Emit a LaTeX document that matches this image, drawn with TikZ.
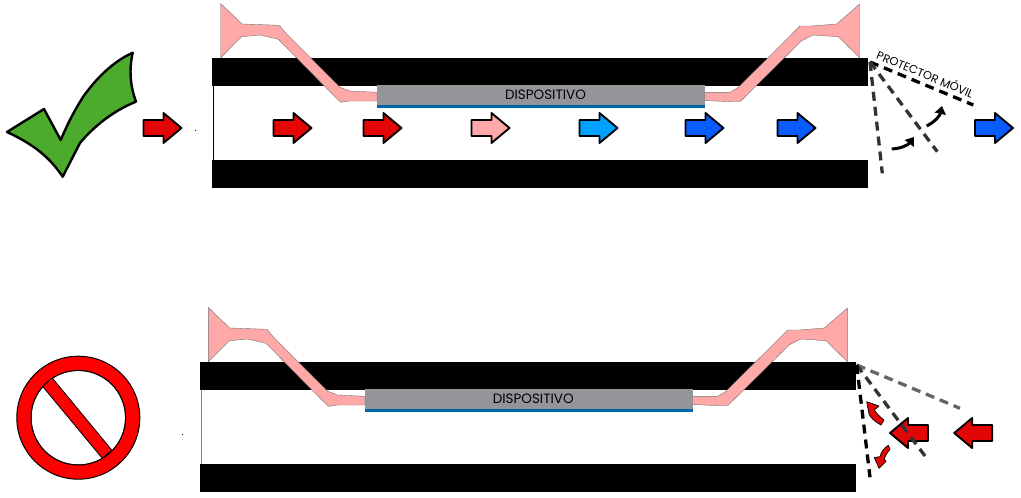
\documentclass[tikz,border=0pt]{standalone}
\usepackage{fontspec}
\setmainfont{Poppins}
\usetikzlibrary{
  arrows.meta,
  calc
}
\definecolor{horn}{HTML}{FFA8A8}
\definecolor{flowred}{HTML}{E30606}
\definecolor{flowblue}{HTML}{0A5CFF}
\definecolor{flowsky}{HTML}{00A2FF}
\definecolor{devgray}{HTML}{939598}
\definecolor{devblue}{HTML}{0068A8}
\definecolor{tick}{HTML}{4CAA2D}
\definecolor{stopred}{HTML}{FF0000}

\begin{document}
\begin{tikzpicture}[
  x=1pt, y=-1pt,
  wall/.style={fill=black},
  hornline/.style={fill=horn, draw=black!55, line width=0.4pt, line join=round},
  shutter/.style={line width=3.3pt, dash pattern=on 9pt off 6pt},
  turn/.style={line width=3pt, -{Triangle[length=8pt, width=11pt]}},
  redturn/.style={fill=flowred, draw=black, line width=0.7pt, line join=round},
  flowline/.style={draw=black, line width=1.9pt, line join=round},
  devlabel/.style={font=\fontsize{13.5}{13.5}\selectfont, inner sep=0pt},
  pics/flowarrow/.style={code={
    \draw[flowline, fill=#1] (0,-8) -- (20,-8) -- (20,-15) -- (38,0) -- (20,15)
      -- (20,8) -- (0,8) -- cycle;
  }},
  pics/guide/.style={code={
    \fill[wall] (212,58) rectangle (868,86);
    \fill[wall] (212,160) rectangle (868,188);
    \fill[devgray] (377,85) rectangle (705,105);
    \fill[devblue] (377,105) rectangle (705,107.5);
    \node[devlabel] (devtext) at (545.5,95) {DISPOSITIVO};
    % left feed
    \draw[hornline] (220.7,3.5) -- (242,24) -- (279.3,25.3) -- (286,33.3) -- (340,87.3)
      -- (350,91) -- (377,92.3) -- (377,101) -- (350,101) -- (340.7,102.3) -- (333.3,95)
      -- (278.3,39.3) -- (260,35) -- (241.7,36.7) -- (220.7,57.8) -- cycle;
    % right feed
    \draw[hornline] (859.7,4) -- (859.7,57.8) -- (838.3,36.7) -- (813.3,35) -- (801.7,40.7)
      -- (740,101.7) -- (730.7,101.7) -- (705,100.5) -- (705,92.3) -- (730,92.3)
      -- (738.3,87.3) -- (800,26) -- (811.7,26) -- (836.7,24) -- cycle;
  }}
]
  \useasboundingbox (0,0) rectangle (1021,498);

  % Allowed case
  \draw[fill=tick, line width=2.4pt, line join=round] (7,132) -- (44,109) -- (60.7,140)
    .. controls (70,118) and (78,105) .. (83,97)
    .. controls (95,80) and (112,62) .. (132.7,52.7)
    .. controls (129,70) and (130,85) .. (136,101.7)
    .. controls (115,110) and (95,125) .. (80,143)
    -- (62.7,176.7)
    .. controls (50,158) and (35,145) .. (7,132) -- cycle;

  \pic at (143.5,128) {flowarrow=flowred};
  \fill (195,129.5) rectangle (196,131);
  \pic (upper) at (0,0) {guide};
  \draw[line width=1pt] (213.3,86) -- (213.3,160);
  \foreach \px/\pcol in {273.5/flowred, 363.5/flowred, 471.5/horn, 579.5/flowsky, 685.5/flowblue, 777.5/flowblue, 975/flowblue}
    \pic at (\px,128) {flowarrow=\pcol};

  \coordinate (hingeA) at (870,62);
  \coordinate (openA) at (973.3,105);
  \coordinate (midA) at (937.3,151.7);
  \coordinate (shutA) at (882.3,173.3);
  \draw[shutter, black] (hingeA) -- (openA);
  \draw[shutter, black!80] (hingeA) -- (midA);
  \draw[shutter, black!80] (hingeA) -- (shutA);
  \node[font=\fontsize{11.5}{11.5}\selectfont, inner sep=0pt, rotate=-22.6] (shuttertext) at (925.5,73.5) {PROTECTOR MÓVIL};
  \draw[turn] (891.7,149) to[bend right=25] (914,137);
  \draw[turn] (926.7,126) to[bend right=25] (942,106);

  % Blocked case
  \fill[white, draw=black, line width=1pt] (78.3,417.7) circle (47.3);
  \draw[fill=stopred, line width=0.8pt] (51.7,377.3) -- (111.7,450) -- (102.3,458.3) -- (42.3,386) -- cycle;
  \draw[fill=stopred, even odd rule, line width=1pt] (78.3,417.7) circle (61.5) (78.3,417.7) circle (47.3);

  \fill (182,433.5) rectangle (183,435);
  \pic (lower) at (-12.3,304) {guide};
  \draw[line width=1pt, black!50] (201,390) -- (201,464);

  \pic[xscale=-1] at (928,433) {flowarrow=flowred};
  \pic[xscale=-1] at (992.2,433) {flowarrow=flowred};

  \coordinate (hingeB) at (856.7,365);
  \coordinate (openB) at (960,408.3);
  \coordinate (midB) at (925,456);
  \coordinate (shutB) at (870,477.3);
  \draw[shutter, black!60] (hingeB) -- (openB);
  \draw[shutter, black!80] (hingeB) -- (midB);
  \draw[shutter, black] (hingeB) -- (shutB);
  \draw[redturn] (866.7,401.7) -- (879,406) -- (874.3,410)
    .. controls (877,414) and (880,417) .. (884,420) -- (881,425)
    .. controls (875,422) and (870,417) .. (869,414) -- cycle;
  \draw[redturn] (879,468.3) -- (874.3,457.5) -- (880,456.7)
    .. controls (881,452) and (884,448) .. (888.3,445.3) -- (890,449.3)
    .. controls (887,453) and (885,456) .. (884.3,459.3) -- (886,461.3) -- cycle;
\end{tikzpicture}
\end{document}
